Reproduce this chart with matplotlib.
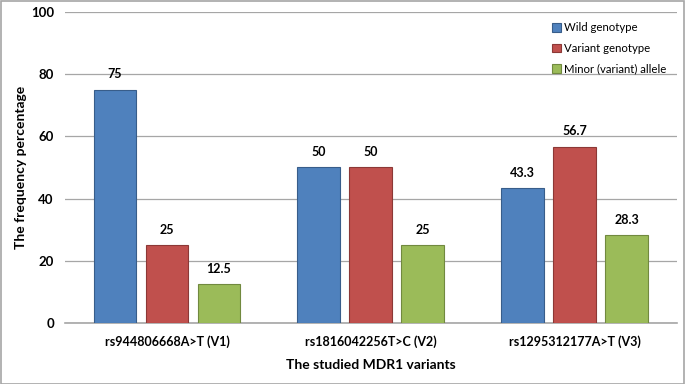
import matplotlib
matplotlib.use("Agg")
import matplotlib.pyplot as plt
import numpy as np
from matplotlib.patches import Rectangle

categories = ["rs944806668A>T (V1)", "rs1816042256T>C (V2)", "rs1295312177A>T (V3)"]
series_names = ["Wild genotype", "Variant genotype", "Minor (variant) allele"]
wild = [75, 50, 43.3]
variant = [25, 50, 56.7]
minor = [12.5, 25, 28.3]
labels = [["75", "50", "43.3"], ["25", "50", "56.7"], ["12.5", "25", "28.3"]]
yticks = [0, 20, 40, 60, 80, 100]

colors = ["#4F81BD", "#C0504D", "#9BBB59"]
edges = ["#385D8A", "#8C3836", "#71893F"]

plt.rcParams['font.family'] = ['Lato', 'DejaVu Sans']

fig = plt.figure(figsize=(6.85, 3.84), dpi=100)
ax = fig.add_axes([0.0949, 0.159, 0.893, 0.81])
fig.patches.append(Rectangle((0.001, 0.001), 0.997, 0.996, transform=fig.transFigure,
                             fill=False, edgecolor="#A6A6A6", linewidth=1.2))

x = np.arange(len(categories))
w = 0.21
step = 0.255
for i, (vals, name) in enumerate(zip([wild, variant, minor], series_names)):
    pos = x + (i - 1) * step
    ax.bar(pos, vals, width=w, color=colors[i], edgecolor=edges[i], linewidth=0.8,
           label=name, zorder=3)
    for p, v, t in zip(pos, vals, labels[i]):
        ax.text(p, v + 3, t, ha="center", va="bottom", fontsize=9, fontweight="bold")

ax.set_xlim(-0.5, 2.5)
ax.set_ylim(0, 100)
ax.set_yticks(yticks)
ax.yaxis.grid(True, color="#A6A6A6", linewidth=0.9, zorder=0)
ax.set_axisbelow(True)
for s in ["top", "right", "left"]:
    ax.spines[s].set_visible(False)
ax.spines["bottom"].set_color("#A6A6A6")
ax.spines["bottom"].set_linewidth(1.2)
ax.tick_params(axis="y", length=0, pad=8, labelsize=9.5)
ax.tick_params(axis="x", length=0, pad=9, labelsize=9)
ax.set_xticks(x)
ax.set_xticklabels(categories, fontweight="bold")
for lab in ax.get_yticklabels():
    lab.set_fontweight("bold")
ax.set_ylabel("The frequency percentage", fontsize=10, fontweight="bold", labelpad=3)
ax.set_xlabel("The studied MDR1 variants", fontsize=10, fontweight="bold", labelpad=8)

leg = ax.legend(loc="upper right", bbox_to_anchor=(1.0, 1.0), frameon=False,
                fontsize=8.2, handlelength=0.8, handleheight=0.8, handletextpad=0.3,
                labelspacing=0.85)

fig.savefig("out.png", dpi=100)
